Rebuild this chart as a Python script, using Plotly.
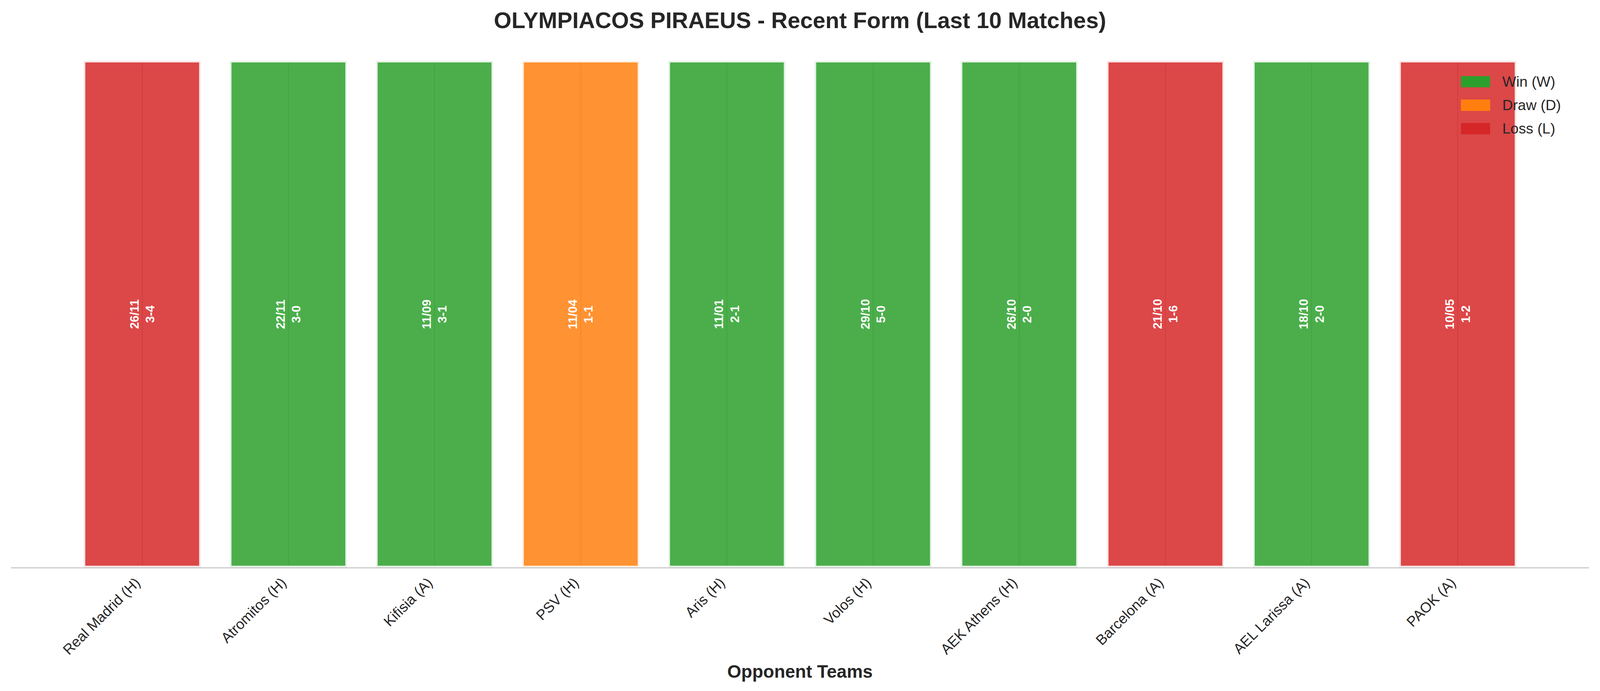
import plotly.graph_objects as go

# ---- data ----
opponents = ["Real Madrid (H)", "Atromitos (H)", "Kifisia (A)", "PSV (H)", "Aris (H)",
             "Volos (H)", "AEK Athens (H)", "Barcelona (A)", "AEL Larissa (A)", "PAOK (A)"]
results = ["L", "W", "W", "D", "W", "W", "W", "L", "W", "L"]
dates = ["26/11", "22/11", "11/09", "11/04", "11/01", "29/10", "26/10", "21/10", "18/10", "10/05"]
scores = ["3-4", "3-0", "3-1", "1-1", "2-1", "5-0", "2-0", "1-6", "2-0", "1-2"]
bar_height = [1] * len(opponents)

result_names = {"W": "Win (W)", "D": "Draw (D)", "L": "Loss (L)"}
result_colors = {"W": "44,160,44", "D": "255,127,14", "L": "214,39,40"}
legend_order = ["W", "D", "L"]

FONT = "Liberation Sans, Arial, Helvetica, sans-serif"
TXT = "#262626"

# the browser viewport is 4096 px wide; fit the 4170-wide design into it
W, H = 4096, 1770
SX = W / 4170

fig = go.Figure()

for r in legend_order:
    idx = [i for i, v in enumerate(results) if v == r]
    fig.add_trace(go.Bar(
        x=[opponents[i] for i in idx],
        y=[bar_height[i] for i in idx],
        width=0.8,
        name=result_names[r],
        marker=dict(color=f"rgba({result_colors[r]},0.85)",
                    line=dict(color="rgba(255,255,255,0.85)", width=8)),
        showlegend=False,
        hoverinfo="skip",
    ))

# labels inside bars
for i, opp in enumerate(opponents):
    fig.add_annotation(
        x=opp, y=bar_height[i] / 2, xref="x", yref="y",
        text=f"<b>{dates[i]}<br>{scores[i]}</b>",
        textangle=-90, showarrow=False,
        font=dict(family=FONT, size=31, color="white"),
        align="center",
    )

# legend (matplotlib-style patches, upper right)
leg_y = [(0.970, 0.948), (0.9237, 0.9013), (0.8774, 0.8551)]
for k, r in enumerate(legend_order):
    y1, y0 = leg_y[k]
    fig.add_shape(type="rect", xref="paper", yref="paper",
                  x0=0.9188, x1=0.9373, y0=y0, y1=y1,
                  fillcolor=f"rgb({result_colors[r]})", line=dict(width=0))
    fig.add_annotation(xref="paper", yref="paper", x=0.9446, y=(y0 + y1) / 2,
                       xanchor="left", yanchor="middle", showarrow=False,
                       text=result_names[r],
                       font=dict(family=FONT, size=37.5, color=TXT))

fig.update_layout(
    width=W, height=H, autosize=False,
    margin=dict(l=29 * SX, r=29 * SX, t=156, b=317, pad=0),
    paper_bgcolor="white", plot_bgcolor="white",
    barmode="overlay",
    title=dict(text="<b>OLYMPIACOS PIRAEUS - Recent Form (Last 10 Matches)</b>",
               x=0.5, xanchor="center", y=1 - 52 / 1770, yanchor="middle",
               yref="container", xref="container",
               font=dict(family=FONT, size=58, color=TXT)),
    font=dict(family=FONT, color=TXT),
    showlegend=False,
)

fig.update_xaxes(
    type="category", categoryorder="array", categoryarray=opponents,
    range=[-0.898, 9.898],
    showgrid=True, gridcolor="#cccccc", gridwidth=3,
    showline=True, linecolor="#cccccc", linewidth=3,
    ticks="", tickangle=-45, ticklabelshift=-16,
    tickfont=dict(family=FONT, size=37, color=TXT),
    title=dict(text="<b>Opponent Teams</b>", font=dict(family=FONT, size=46, color=TXT),
               standoff=20),
    zeroline=False,
)
fig.update_yaxes(range=[0, 1], showgrid=False, showticklabels=False,
                 zeroline=False, showline=False, ticks="")

fig.write_html("out.html",
               post_script="document.body.style.margin='0';document.body.style.overflow='hidden';",
               config={"displayModeBar": False})
